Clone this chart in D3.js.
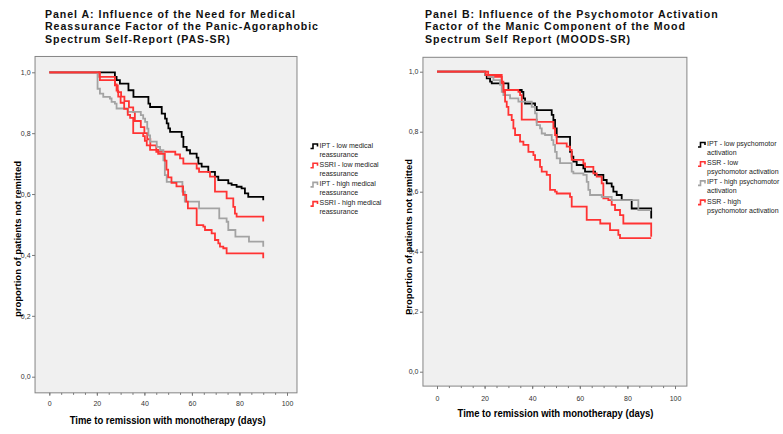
<!DOCTYPE html>
<html>
<head>
<meta charset="utf-8">
<script src="https://cdn.jsdelivr.net/npm/d3@7"></script>
<style>
  body { margin: 0; background: #fff; }
  svg { font-family: 'Liberation Sans', Arial, sans-serif; }
</style>
</head>
<body>
<svg id="chart" width="783" height="434"></svg>
<script>
// ticks and texts
const xTicks = [0, 20, 40, 60, 80, 100];
const yTicks = [0, 0.2, 0.4, 0.6, 0.8, 1.0];
const xLabel = 'Time to remission with monotherapy (days)';

const titleA = ['Panel A:  Influence of the Need for Medical',
  'Reassurance Factor of the Panic-Agoraphobic',
  'Spectrum Self-Report (PAS-SR)'];
const titleB = ['Panel B:  Influence of the Psychomotor Activation',
  'Factor of the Manic Component of the Mood',
  'Spectrum Self Report (MOODS-SR)'];
const yLabelA = 'proportion of patients not remitted';
const yLabelB = 'Proportion of patients not remitted';
const legendA = [['IPT - low medical', 'reassurance'], ['SSRI - low medical', 'reassurance'],
  ['IPT - high medical', 'reassurance'], ['SSRI - high medical', 'reassurance']];
const legendB = [['IPT - low psychomotor', 'activation'], ['SSR - low', 'psychomotor activation'],
  ['IPT - high psychomotor', 'activation'], ['SSR - high', 'psychomotor activation']];
const colors = ['#000000', '#ff3333', '#a3a3a3', '#ff3333'];

// Kaplan-Meier steps: [day, proportion not remitted after the drop]
const aIptLow = [[0, 1], [27.6, 0.985], [28.3, 0.974], [29.7, 0.963], [33.3, 0.941], [35.4, 0.919],
  [41.7, 0.897], [42.4, 0.886], [47.3, 0.864], [48.7, 0.848], [49.4, 0.832], [50.1, 0.816],
  [50.8, 0.804], [55.7, 0.788], [56.4, 0.755], [57.8, 0.744], [59.2, 0.733], [62, 0.72],
  [62.7, 0.70], [64.1, 0.69], [66.9, 0.673], [69.7, 0.657], [71.1, 0.646], [75.3, 0.635],
  [76.7, 0.63], [78.8, 0.624], [80.9, 0.619], [82.3, 0.602], [83.7, 0.591], [90, 0.58]];
const aSsriLow = [[0, 1], [21, 0.985], [27.6, 0.957], [28.8, 0.935], [30.2, 0.92], [31.6, 0.905],
  [33.5, 0.885], [35.3, 0.87], [36, 0.84], [38.5, 0.82], [40, 0.80], [41.2, 0.78], [42.5, 0.76],
  [45, 0.739], [53, 0.73], [55, 0.717], [56.4, 0.70], [62, 0.684], [63, 0.673], [67.6, 0.657],
  [69.7, 0.608], [74.6, 0.586], [77.4, 0.558], [78.1, 0.536], [78.8, 0.526], [90, 0.51]];
const aIptHigh = [[0, 1], [20.3, 0.946], [21.3, 0.93], [22.7, 0.919], [25.5, 0.914], [26.2, 0.903],
  [27.6, 0.897], [28.3, 0.881], [33, 0.87], [38.5, 0.859], [39.5, 0.848], [40.3, 0.837],
  [41.2, 0.815], [41.7, 0.793], [42.4, 0.772], [45.2, 0.755], [46.6, 0.744], [48, 0.711],
  [48.6, 0.662], [49.4, 0.64], [56, 0.608], [57, 0.575], [63, 0.553], [71.5, 0.52], [74.6, 0.509],
  [75.3, 0.482], [78.3, 0.46], [84, 0.444], [90, 0.427]];
const aSsriHigh = [[0, 1], [21.3, 0.974], [27.6, 0.96], [28.3, 0.94], [29, 0.92], [30, 0.90],
  [31.5, 0.88], [33, 0.86], [34, 0.85], [35.3, 0.80], [39.5, 0.79], [40.2, 0.775], [41, 0.76],
  [42.4, 0.745], [45.8, 0.732], [48.6, 0.71], [49.3, 0.68], [50, 0.655], [51.4, 0.637],
  [53.5, 0.625], [56.3, 0.597], [57.6, 0.575], [58.3, 0.553], [62, 0.498], [64.8, 0.493],
  [65.5, 0.482], [68.3, 0.471], [69.7, 0.449], [71.1, 0.438], [71.8, 0.427], [73.2, 0.422],
  [74.6, 0.405], [90, 0.389]];

const bIptLow = [[0, 1], [20.2, 0.989], [20.9, 0.978], [22.3, 0.967], [23, 0.961], [30, 0.939],
  [35.6, 0.933], [36.3, 0.911], [37, 0.894], [41.2, 0.883], [41.9, 0.872], [48.2, 0.856],
  [48.9, 0.839], [49.6, 0.811], [50.3, 0.783], [55.9, 0.733], [56.6, 0.717], [57.3, 0.70],
  [58.7, 0.689], [61.5, 0.678], [62.2, 0.667], [66.4, 0.656], [69.9, 0.639], [71.3, 0.628],
  [73.4, 0.617], [74.1, 0.60], [75.5, 0.589], [77.6, 0.572], [81.8, 0.544], [90, 0.511]];
const bSsrLow = [[0, 1], [21.5, 0.983], [27.2, 0.961], [27.9, 0.939], [34.2, 0.933], [34.9, 0.922],
  [35.6, 0.84], [41.9, 0.833], [48.9, 0.811], [49.6, 0.789], [50.3, 0.761], [54.5, 0.75],
  [55.9, 0.739], [56.6, 0.706], [61.5, 0.694], [62.2, 0.683], [65.7, 0.661], [67.1, 0.65],
  [69.2, 0.628], [69.9, 0.578], [72, 0.572], [73.4, 0.556], [74.8, 0.539], [76.9, 0.522],
  [78.3, 0.494], [90, 0.45]];
const bIptHigh = [[0, 1], [20.2, 0.989], [21.6, 0.983], [23.7, 0.972], [26.5, 0.956], [27.2, 0.933],
  [27.9, 0.922], [30.7, 0.911], [34.2, 0.90], [39.8, 0.883], [41.2, 0.861], [41.9, 0.822],
  [43.3, 0.811], [44, 0.794], [45.4, 0.789], [48.2, 0.772], [48.9, 0.756], [49.6, 0.733],
  [50.3, 0.711], [51.7, 0.695], [56.6, 0.667], [57.3, 0.661], [61.5, 0.656], [62.9, 0.633],
  [63.6, 0.606], [64.3, 0.589], [69.2, 0.583], [73.4, 0.572], [84.6, 0.539], [90, 0.539]];
const bSsrHigh = [[0, 1], [20.5, 0.989], [27.2, 0.967], [27.9, 0.933], [28.6, 0.90], [29.3, 0.883],
  [30, 0.856], [31.4, 0.839], [32.1, 0.811], [32.8, 0.789], [34.9, 0.767], [36.3, 0.756],
  [38.4, 0.733], [40.5, 0.722], [41.2, 0.706], [43.3, 0.683], [44, 0.667], [46.1, 0.656],
  [47.5, 0.606], [49.6, 0.60], [50.3, 0.594], [55.9, 0.583], [56.6, 0.55], [62.9, 0.506],
  [68.6, 0.494], [72.7, 0.472], [76.2, 0.456], [76.9, 0.445], [90, 0.445]];

const svg = d3.select('#chart');
const fmt = v => d3.format('.1f')(v).replace('.', ',');

const panels = [
  { title: titleA, tx: 45, legend: legendA, series: [aIptLow, aSsriLow, aIptHigh, aSsriHigh],
    xr: [49.3, 287], yr: [376.7, 72.3], box: { x: [-6, 104.2], y: [-0.053, 1.052] },
    legX: 310.5, legY: 147.5, yLab: yLabelA, yLabX: 20.5, yLabY: 239, xLabY: 424, xPad: 5 },
  { title: titleB, tx: 425, legend: legendB, series: [bIptLow, bSsrLow, bIptHigh, bSsrHigh],
    xr: [437, 675], yr: [371.7, 71.7], box: { x: [-5.9, 105], y: [-0.048, 1.048] },
    legX: 698, legY: 146, yLab: yLabelB, yLabX: 411.5, yLabY: 237, xLabY: 417, xPad: 7 }
];

panels.forEach(p => {
  const x = d3.scaleLinear().domain([0, 100]).range(p.xr);
  const y = d3.scaleLinear().domain([0, 1]).range(p.yr);
  const g = svg.append('g');

  // title
  g.append('text')
    .attr('x', p.tx).attr('y', 17.5)
    .style('font-size', '10.6px').style('font-weight', 'bold')
    .style('letter-spacing', '0.95px').attr('fill', '#111')
    .selectAll('tspan').data(p.title).join('tspan')
    .attr('x', p.tx).attr('dy', (d, i) => i ? 12.5 : 0)
    .text(d => d);

  // plot box
  const bx0 = x(p.box.x[0]), bx1 = x(p.box.x[1]);
  const by0 = y(p.box.y[1]), by1 = y(p.box.y[0]);
  g.append('rect')
    .attr('x', bx0).attr('y', by0)
    .attr('width', bx1 - bx0).attr('height', by1 - by0)
    .attr('fill', '#f0f0f0').attr('stroke', '#858585').attr('stroke-width', 1);

  // axes
  const ya = g.append('g')
    .attr('transform', `translate(${bx0},0)`)
    .call(d3.axisLeft(y).tickValues(yTicks).tickFormat(fmt).tickSize(3).tickPadding(1.5).tickSizeOuter(0));
  ya.select('.domain').remove();

  const minor = g.append('g')
    .attr('transform', `translate(0,${by1})`)
    .call(d3.axisBottom(x).tickValues(d3.range(0, 101, 5)).tickFormat('').tickSize(2).tickSizeOuter(0));
  minor.select('.domain').remove();

  const xa = g.append('g')
    .attr('transform', `translate(0,${by1})`)
    .call(d3.axisBottom(x).tickValues(xTicks).tickSize(3).tickPadding(p.xPad).tickSizeOuter(0));
  xa.select('.domain').remove();

  g.selectAll('.tick line').attr('stroke', '#777');
  g.selectAll('.tick text').style('font-size', '7px').attr('fill', '#333')
    .style('font-family', "'Liberation Sans', Arial, sans-serif");

  // curves
  const line = d3.line()
    .x(d => x(d[0]))
    .y(d => y(d[1]))
    .curve(d3.curveStepAfter);

  g.selectAll('path.km')
    .data(p.series)
    .join('path')
    .attr('class', 'km')
    .attr('d', d => line(d))
    .attr('fill', 'none')
    .attr('stroke', (d, i) => colors[i])
    .attr('stroke-width', 1.8);

  // legend
  p.legend.forEach((lab, i) => {
    const ly = p.legY + i * 19.2;
    const lx = p.legX;
    g.append('path')
      .attr('d', `M${lx},${ly + 1} H${lx + 2.5} V${ly - 3.5} H${lx + 7} V${ly - 1}`)
      .attr('fill', 'none').attr('stroke', colors[i]).attr('stroke-width', 1.6);
    g.append('text')
      .attr('x', lx + 9).attr('y', ly)
      .style('font-size', '7px').attr('fill', '#222')
      .selectAll('tspan').data(lab).join('tspan')
      .attr('x', lx + 9).attr('dy', (d, j) => j ? 9 : 0)
      .text(d => d);
  });

  // axis titles
  g.append('text')
    .attr('x', (p.xr[0] + p.xr[1]) / 2 - 0.5).attr('y', p.xLabY)
    .attr('text-anchor', 'middle')
    .style('font-size', '10px').style('font-weight', 'bold')
    .attr('textLength', 196).attr('lengthAdjust', 'spacingAndGlyphs')
    .text(xLabel);

  g.append('text')
    .attr('transform', `translate(${p.yLabX},${p.yLabY}) rotate(-90)`)
    .attr('text-anchor', 'middle')
    .style('font-size', '9px').style('font-weight', 'bold')
    .attr('textLength', 156).attr('lengthAdjust', 'spacingAndGlyphs')
    .text(p.yLab);
});
</script>
</body>
</html>
